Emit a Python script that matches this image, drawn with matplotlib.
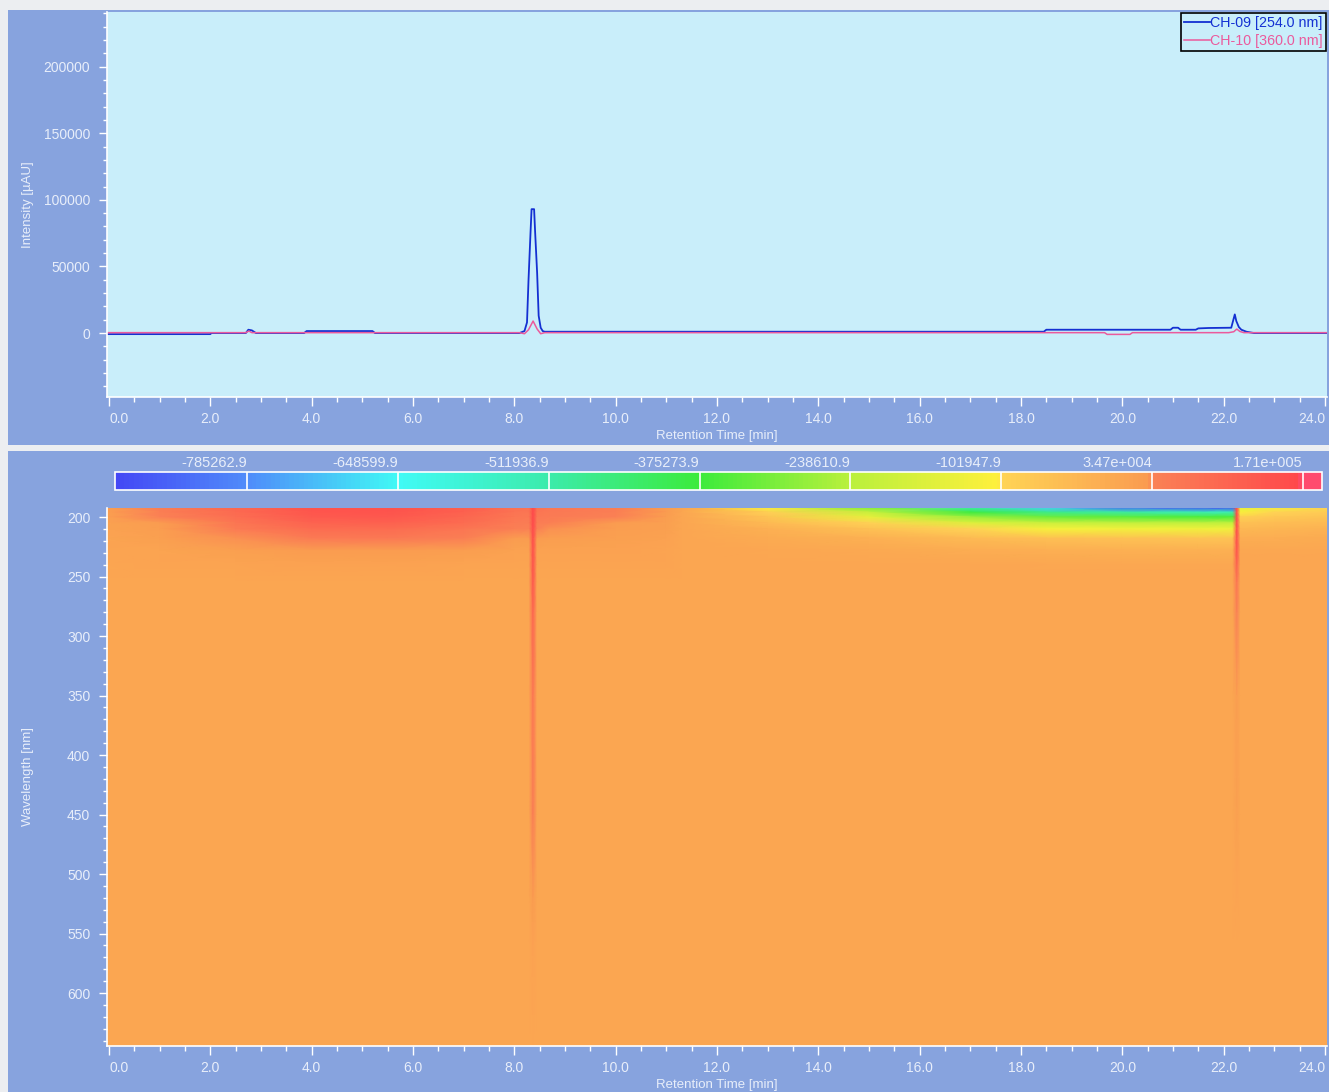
import numpy as np
import matplotlib
matplotlib.use("Agg")
import matplotlib.pyplot as plt
from matplotlib.colors import LinearSegmentedColormap
from matplotlib.patches import Rectangle
from matplotlib.ticker import MultipleLocator, FixedLocator

W, H = 1329, 1092
FRAME = '#87a3de'
PLOT_BG = '#c9eefa'
TXT = '#e8eefa'
FONT = 'Liberation Sans'

# --- chromatogram traces (retention time in min, intensity in uAU) ---
t_ch09 = [-0.05, 2.0, 2.02, 2.7, 2.75, 2.82, 2.9, 3.85, 3.9, 5.2, 5.25,
          8.1, 8.2, 8.25, 8.28, 8.32, 8.34, 8.39, 8.41, 8.45, 8.48, 8.52, 8.56, 8.6,
          18.45, 18.5, 20.95, 21.0, 21.1, 21.15, 21.45, 21.5, 21.7, 22.15,
          22.22, 22.25, 22.3, 22.35, 22.45, 22.6, 24.15]
y_ch09 = [-800, -800, 0, 0, 2500, 2000, 0, 0, 1500, 1500, 0,
          0, 1500, 8000, 40000, 76000, 93000, 93000, 76000, 45000, 13000, 4000, 1500, 1000,
          1000, 2500, 2500, 4000, 4000, 2500, 2500, 3500, 3800, 4000,
          14000, 9000, 4500, 2500, 1000, 0, 0]

t_ch10 = [-0.05, 2.7, 2.76, 2.82, 8.1, 8.2, 8.28, 8.37, 8.45, 8.52, 8.6,
          19.65, 19.7, 20.15, 20.2, 22.1, 22.2, 22.26, 22.32, 22.4, 24.15]
y_ch10 = [300, 300, 1500, 300, 300, -500, 2500, 9000, 3000, -500, 300,
          300, -1000, -1000, 300, 300, 1000, 3000, 1200, 300, 300]

# --- 3D field: nodes in time and wavelength, values in thousands of uAU ---
t_nodes = [-0.05, 1.0, 2.5, 4.0, 5.5, 7.0, 8.0, 8.29, 8.37, 8.45, 8.7, 10.0, 11.0,
           11.3, 13.0, 15.0, 17.0, 18.5, 20.0, 21.5, 22.18, 22.26, 22.33, 23.0, 24.15]
wl_nodes = [192, 196, 200, 205, 210, 218, 228, 240, 255, 280, 350, 450, 520, 560, 645]

wl_192 = [25, 45, 95, 140, 145, 115, 75, 70, 165, 70, 60, 45, 30,
          10, -120, -300, -520, -700, -840, -885, -890, 160, -150, -130, -100]
wl_196 = [22, 40, 88, 135, 140, 108, 68, 64, 165, 64, 55, 40, 27,
          8, -90, -210, -380, -470, -500, -530, -530, 160, -115, -100, -80]
wl_200 = [20, 35, 78, 125, 130, 98, 60, 56, 165, 56, 48, 35, 24,
          6, -65, -150, -270, -320, -340, -355, -355, 160, -85, -75, -60]
wl_205 = [17, 30, 64, 105, 110, 82, 50, 47, 165, 47, 40, 30, 21,
          5, -40, -95, -170, -205, -220, -225, -225, 160, -55, -50, -40]
wl_210 = [15, 25, 50, 82, 86, 64, 40, 38, 160, 38, 33, 25, 18,
          5, -20, -55, -100, -120, -128, -132, -132, 155, -35, -30, -22]
wl_218 = [12, 18, 32, 50, 52, 40, 28, 27, 155, 27, 24, 19, 15,
          6, -5, -20, -40, -52, -56, -60, -60, 150, -12, -10, -6]
wl_228 = [10, 13, 19, 27, 28, 23, 17, 17, 150, 17, 16, 14, 12,
          8, 4, -1, -9, -14, -17, -19, -19, 140, 2, 3, 4]
wl_240 = [9, 10, 12, 14, 14, 13, 11, 11, 145, 11, 11, 10, 10,
          9, 8, 7, 5, 3, 2, 1, 1, 105, 8, 8, 9]
wl_255 = [9, 9, 9, 9, 9, 9, 9, 9, 130, 9, 9, 9, 9,
          9, 9, 9, 9, 8, 8, 8, 8, 60, 9, 9, 9]
wl_280 = [9, 9, 9, 9, 9, 9, 9, 9, 100, 9, 9, 9, 9,
          9, 9, 9, 9, 9, 9, 9, 9, 35, 9, 9, 9]
wl_350 = [9, 9, 9, 9, 9, 9, 9, 9, 60, 9, 9, 9, 9,
          9, 9, 9, 9, 9, 9, 9, 9, 25, 9, 9, 9]
wl_450 = [9, 9, 9, 9, 9, 9, 9, 9, 45, 9, 9, 9, 9,
          9, 9, 9, 9, 9, 9, 9, 9, 20, 9, 9, 9]
wl_520 = [9, 9, 9, 9, 9, 9, 9, 9, 30, 9, 9, 9, 9,
          9, 9, 9, 9, 9, 9, 9, 9, 12, 9, 9, 9]
wl_560 = [9, 9, 9, 9, 9, 9, 9, 9, 14, 9, 9, 9, 9,
          9, 9, 9, 9, 9, 9, 9, 9, 9, 9, 9, 9]
wl_645 = [9, 9, 9, 9, 9, 9, 9, 9, 9, 9, 9, 9, 9,
          9, 9, 9, 9, 9, 9, 9, 9, 9, 9, 9, 9]

# colour scale limits and labelled boundaries
z_min, z_max = -904727.0, 188574.0
bar_ticks = [-785262.9, -648599.9, -511936.9, -375273.9,
             -238610.9, -101947.9, 34715.1, 171378.1]
bar_labels = ['-785262.9', '-648599.9', '-511936.9', '-375273.9',
              '-238610.9', '-101947.9', '3.47e+004', '1.71e+005']

field = np.vstack([wl_192, wl_196, wl_200, wl_205, wl_210, wl_218, wl_228, wl_240,
                   wl_255, wl_280, wl_350, wl_450, wl_520, wl_560, wl_645]) * 1000.0

cmap = LinearSegmentedColormap.from_list('pda', [
    (0.000, (68/255, 72/255, 245/255)),
    (0.109, (80/255, 140/255, 250/255)),
    (0.235, (64/255, 250/255, 245/255)),
    (0.360, (60/255, 235/255, 170/255)),
    (0.484, (60/255, 235/255, 60/255)),
    (0.609, (185/255, 240/255, 60/255)),
    (0.733, (255/255, 240/255, 60/255)),
    (0.735, (255/255, 212/255, 85/255)),
    (0.858, (250/255, 155/255, 80/255)),
    (0.860, (250/255, 130/255, 85/255)),
    (0.983, (255/255, 72/255, 75/255)),
    (0.985, (255/255, 75/255, 110/255)),
    (1.000, (255/255, 75/255, 110/255)),
], N=256)

fig = plt.figure(figsize=(W / 100, H / 100), dpi=100, facecolor='#eceef1')

def px_rect(x0, y0, x1, y1):
    return [x0 / W, 1 - y1 / H, (x1 - x0) / W, (y1 - y0) / H]

# dark panel frames behind the two plots
for (x0, y0, x1, y1) in [(8, 10, W, 445), (8, 451, W, H)]:
    l, b, w, h = px_rect(x0, y0, x1, y1)
    fig.add_artist(Rectangle((l, b), w, h, transform=fig.transFigure,
                             facecolor=FRAME, edgecolor='none', zorder=-10))

def style_axes(ax):
    for s in ['top', 'right']:
        ax.spines[s].set_visible(False)
    for s in ['left', 'bottom']:
        ax.spines[s].set_color('white')
        ax.spines[s].set_linewidth(1.2)
    ax.tick_params(which='both', colors='white', direction='out', width=1)
    ax.tick_params(axis='x', which='major', length=6.5, pad=4, labelsize=10, labelcolor=TXT)
    ax.tick_params(axis='x', which='minor', length=3.5)
    ax.tick_params(axis='y', which='major', length=6, pad=6, labelsize=10, labelcolor=TXT)
    ax.tick_params(axis='y', which='minor', length=3)
    ax.xaxis.set_minor_locator(MultipleLocator(0.5))
    ax.set_xticks(np.arange(0, 25, 2))
    ax.set_xticklabels([f'{v:.1f}' for v in np.arange(0, 25, 2)])
    for lab in ax.get_xticklabels() + ax.get_yticklabels():
        lab.set_fontfamily(FONT)
    xl = ax.get_xticklabels()
    xl[0].set_ha('left')
    xl[-1].set_ha('right')
    ax.set_xlim(-0.04, 24.04)
    ax.set_xlabel('Retention Time [min]', color=TXT, fontsize=9.5, family=FONT, labelpad=3)

# --- top: chromatogram ---
ax1 = fig.add_axes(px_rect(107, 12, 1327, 397))
ax1.set_facecolor(PLOT_BG)
ax1.plot(t_ch09, y_ch09, color='#1430d2', lw=1.3, label='CH-09 [254.0 nm]')
ax1.plot(t_ch10, y_ch10, color='#eb5a9c', lw=1.1, label='CH-10 [360.0 nm]')
ax1.set_ylim(-48000, 241000)
ax1.yaxis.set_major_locator(FixedLocator([0, 50000, 100000, 150000, 200000]))
ax1.yaxis.set_minor_locator(MultipleLocator(10000))
ax1.set_yticklabels(['0', '50000', '100000', '150000', '200000'])
style_axes(ax1)
ax1.set_ylabel('Intensity [\u00b5AU]', color=TXT, fontsize=9.5, family=FONT)
ax1.yaxis.set_label_coords(-0.060, 0.5)
leg = ax1.legend(loc='upper right', fancybox=False, framealpha=1, facecolor=PLOT_BG,
                 edgecolor='black', borderaxespad=0.05, handlelength=1.8,
                 handletextpad=0.0, labelspacing=0.25, borderpad=0.25,
                 prop={'family': FONT, 'size': 10.3}, labelcolor='linecolor')
leg.get_frame().set_linewidth(1.2)

# --- bottom: wavelength / time map ---
ax2 = fig.add_axes(px_rect(107, 508, 1327, 1046))
tt, ww = np.meshgrid(t_nodes, wl_nodes)
mesh = ax2.pcolormesh(tt, ww, field, cmap=cmap, vmin=z_min, vmax=z_max,
                      shading='gouraud', rasterized=True)
ax2.set_ylim(644.5, 192.4)
ax2.yaxis.set_major_locator(FixedLocator([200, 250, 300, 350, 400, 450, 500, 550, 600]))
ax2.yaxis.set_minor_locator(MultipleLocator(10))
ax2.set_yticklabels(['200', '250', '300', '350', '400', '450', '500', '550', '600'])
style_axes(ax2)
ax2.set_ylabel('Wavelength [nm]', color=TXT, fontsize=9.5, family=FONT)
ax2.yaxis.set_label_coords(-0.060, 0.5)

# --- colour bar ---
cax = fig.add_axes(px_rect(115, 472, 1322, 490))
cb = fig.colorbar(mesh, cax=cax, orientation='horizontal')
cb.outline.set_edgecolor('white')
cb.outline.set_linewidth(1.2)
cax.xaxis.set_ticks_position('top')
cb.set_ticks(bar_ticks)
cb.set_ticklabels(bar_labels)
cax.tick_params(axis='x', length=0, pad=1.5, labelcolor=TXT, labelsize=10.5)
cax.minorticks_off()
for lab in cax.get_xticklabels():
    lab.set_ha('right')
    lab.set_fontfamily(['Liberation Sans Narrow', FONT])
for v in bar_ticks:
    cax.axvline(v, color='white', lw=1.2)

fig.savefig('out.png', dpi=100, facecolor=fig.get_facecolor())
